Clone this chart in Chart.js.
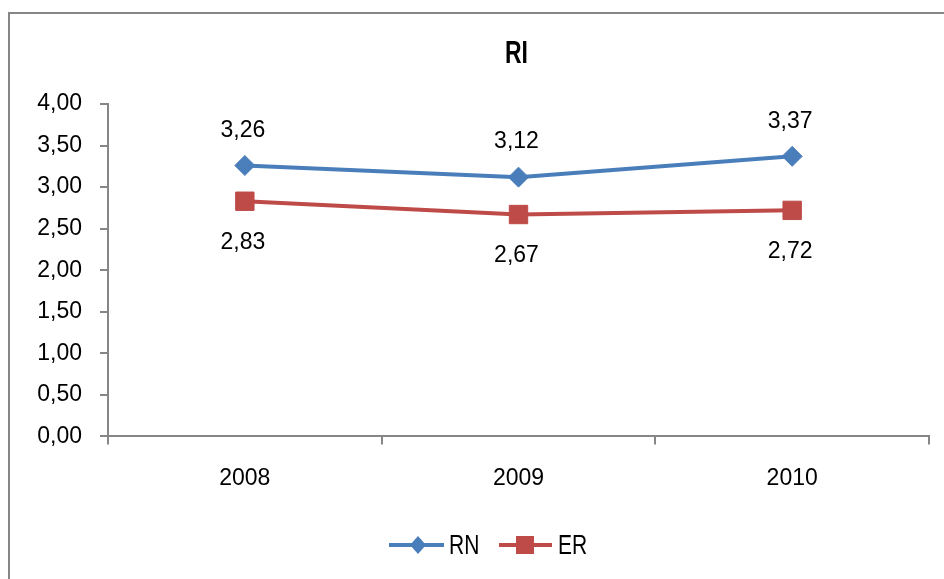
<!DOCTYPE html>
<html>
<head>
<meta charset="utf-8">
<style>
  html, body { margin: 0; padding: 0; background: #fff; }
  #wrap { width: 944px; height: 579px; }
</style>
<script src="https://cdn.jsdelivr.net/npm/chart.js@4/dist/chart.umd.min.js"></script>
</head>
<body>
<div id="wrap"><canvas id="chart"></canvas></div>
<script>
// valores
const anos = ['2008', '2009', '2010'];
const serieRN = [3.26, 3.12, 3.37];
const serieER = [2.83, 2.67, 2.72];
const tituloGrafico = 'RI';
const nomesSeries = ['RN', 'ER'];

const AZUL = '#4A7EBB';
const VERMELHO = '#BE4B48';
const CINZA = '#868686';
const FONTE = "'Liberation Sans', Arial, sans-serif";

const fmt = v => v.toFixed(2).replace('.', ',');

// texto "apertado" na horizontal, como no original
function textoEstreito(ctx, txt, x, y, fonte, escala, alinh) {
    ctx.save();
    ctx.font = fonte;
    ctx.fillStyle = '#000';
    ctx.textBaseline = 'middle';
    ctx.textAlign = alinh;
    ctx.translate(x, y);
    ctx.scale(escala, 1);
    ctx.fillText(txt, 0, 0);
    ctx.restore();
}

// moldura externa, título e legenda
const moldura = {
    id: 'moldura',
    beforeDraw(chart) {
        const ctx = chart.ctx;
        ctx.save();
        ctx.strokeStyle = CINZA;
        ctx.lineWidth = 2;
        ctx.strokeRect(9, 13, 1000, 1000);
        ctx.restore();
    },
    afterDraw(chart) {
        const ctx = chart.ctx;
        const area = chart.chartArea;
        const cx = (area.left + area.right) / 2;
        textoEstreito(ctx, tituloGrafico, cx - 2, 54, 'bold 31px ' + FONTE, 0.74, 'center');

        // legenda: linha + marcador + nome
        const y = 545;
        const itens = [
            { x0: 389, x1: 444, mx: 418, cor: AZUL, estilo: 'diamante', tx: 449 },
            { x0: 499, x1: 552, mx: 525, cor: VERMELHO, estilo: 'quadrado', tx: 558 }
        ];
        itens.forEach((it, i) => {
            ctx.save();
            ctx.strokeStyle = it.cor;
            ctx.fillStyle = it.cor;
            ctx.lineWidth = 4;
            ctx.beginPath();
            ctx.moveTo(it.x0, y); ctx.lineTo(it.x1, y);
            ctx.stroke();
            ctx.beginPath();
            if (it.estilo === 'diamante') {
                ctx.moveTo(it.mx, y - 9); ctx.lineTo(it.mx + 8, y); ctx.lineTo(it.mx, y + 9); ctx.lineTo(it.mx - 8, y);
            } else {
                ctx.rect(it.mx - 9, y - 9, 18, 18);
            }
            ctx.fill();
            ctx.restore();
            textoEstreito(ctx, nomesSeries[i], it.tx, y + 1, '28px ' + FONTE, 0.75, 'left');
        });
    }
};

// rótulos de dados (acima para RN, abaixo para ER)
const rotulos = {
    id: 'rotulos',
    afterDatasetsDraw(chart) {
        const ctx = chart.ctx;
        ctx.save();
        ctx.font = '23px ' + FONTE;
        ctx.fillStyle = '#000';
        ctx.textAlign = 'center';
        ctx.textBaseline = 'middle';
        chart.data.datasets.forEach((ds, i) => {
            const meta = chart.getDatasetMeta(i);
            meta.data.forEach((pt, j) => {
                const dy = i === 0 ? -35 : 41;
                ctx.fillText(fmt(ds.data[j]), pt.x - 2, pt.y + dy);
            });
        });
        ctx.restore();
    }
};

new Chart(document.getElementById('chart'), {
    type: 'line',
    data: {
        labels: anos,
        datasets: [
            {
                label: nomesSeries[0],
                data: serieRN,
                borderColor: AZUL,
                backgroundColor: AZUL,
                borderWidth: 4,
                pointStyle: 'rectRot',
                pointRadius: 10,
                pointHoverRadius: 10,
                pointBorderWidth: 1,
                tension: 0
            },
            {
                label: nomesSeries[1],
                data: serieER,
                borderColor: VERMELHO,
                backgroundColor: VERMELHO,
                borderWidth: 4,
                pointStyle: 'rect',
                pointRadius: 13,
                pointHoverRadius: 13,
                pointBorderWidth: 1,
                tension: 0
            }
        ]
    },
    options: {
        responsive: true,
        maintainAspectRatio: false,
        animation: false,
        layout: { padding: { left: 0, right: 15, top: 104, bottom: 67 } },
        plugins: {
            tooltip: { enabled: false },
            title: { display: false },
            legend: { display: false }
        },
        scales: {
            x: {
                offset: true,
                grid: {
                    offset: true,
                    drawOnChartArea: false,
                    drawTicks: true,
                    tickLength: 8,
                    color: CINZA,
                    lineWidth: 2
                },
                border: { display: true, color: CINZA, width: 2 },
                ticks: {
                    color: '#000',
                    font: { family: FONTE, size: 23 },
                    padding: 20,
                    maxRotation: 0
                }
            },
            y: {
                min: 0,
                max: 4,
                afterFit(scale) { scale.width = 108; },
                grid: {
                    drawOnChartArea: false,
                    drawTicks: true,
                    tickLength: 8,
                    color: CINZA,
                    lineWidth: 2
                },
                border: { display: true, color: CINZA, width: 2 },
                ticks: {
                    stepSize: 0.5,
                    color: '#000',
                    font: { family: FONTE, size: 23 },
                    padding: 18,
                    callback: v => fmt(v)
                }
            }
        }
    },
    plugins: [moldura, rotulos]
});
</script>
</body>
</html>
